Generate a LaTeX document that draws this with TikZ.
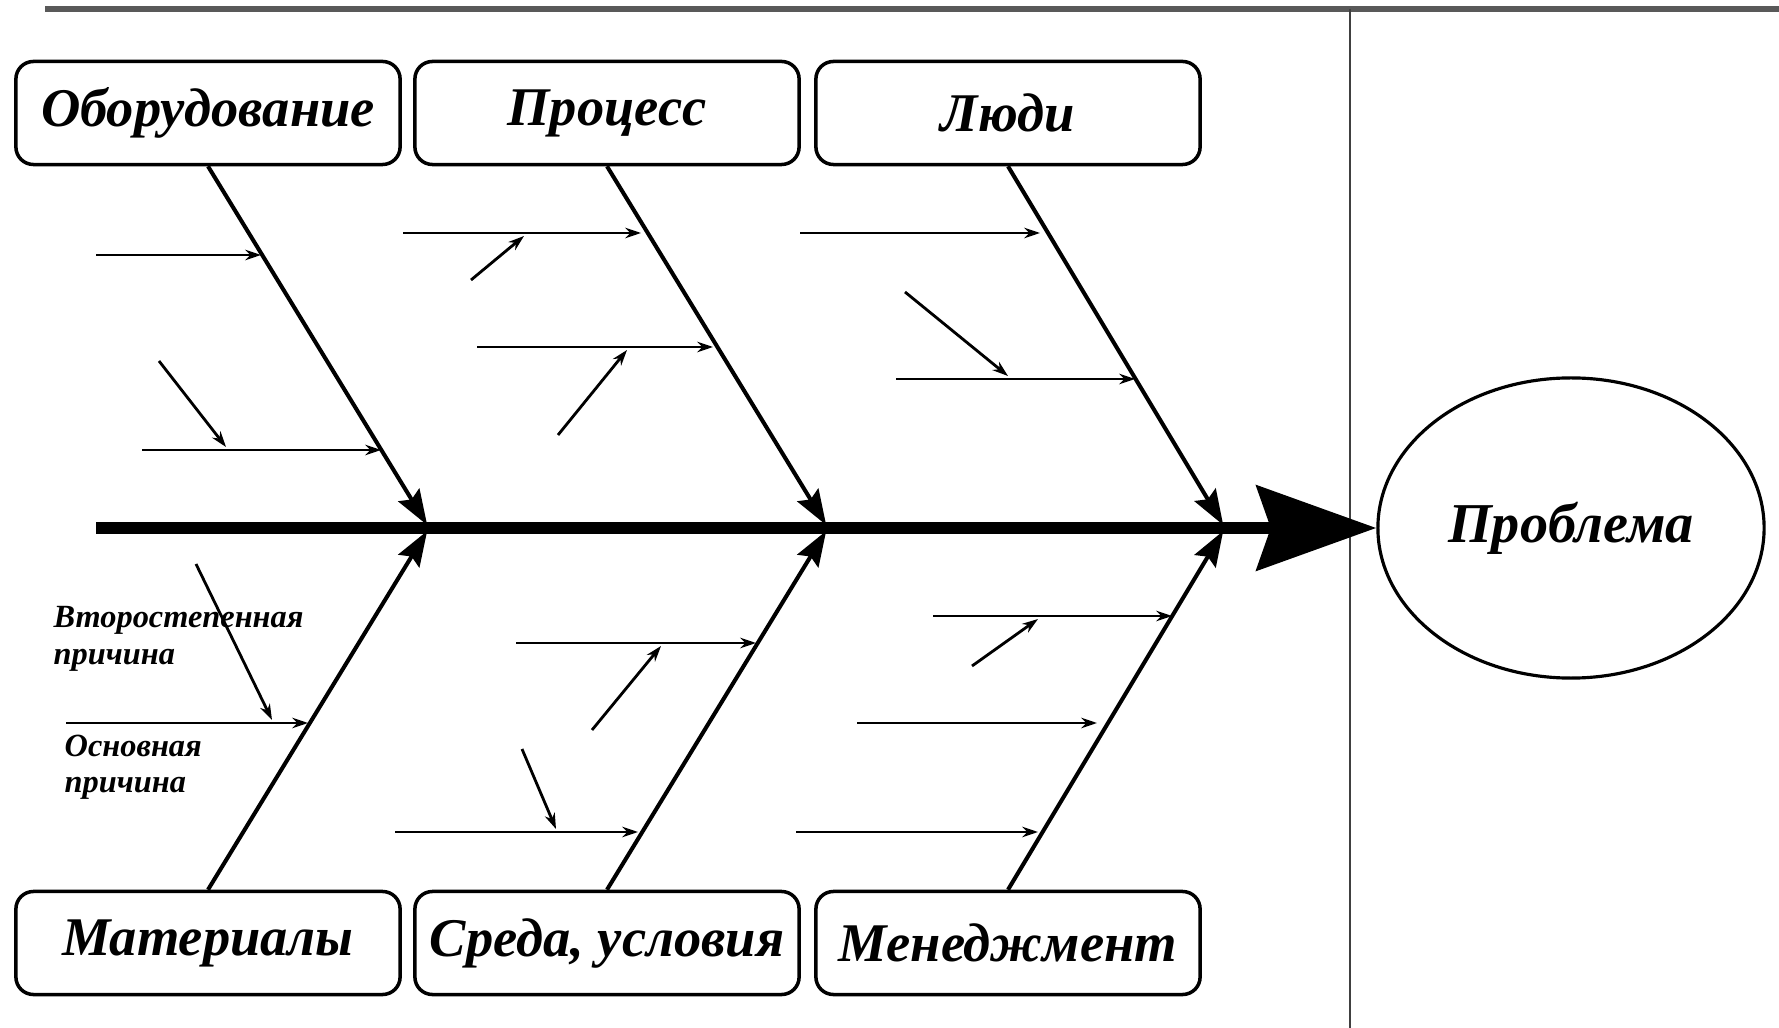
\documentclass[tikz,border=0pt]{standalone}
\usepackage{fontspec}
\setmainfont{Liberation Serif}
\usetikzlibrary{shapes.geometric, arrows.meta, positioning}

\begin{document}
\begin{tikzpicture}[x=0.01cm, y=-0.01cm,
    box/.style={draw, rectangle, rounded corners=5pt, line width=1pt, minimum width=3.84cm, minimum height=1.03cm, inner sep=1pt, font=\fontsize{15.5}{18}\selectfont\bfseries\itshape},
    bone/.style={line width=1.15pt, shorten >=1pt, -{Stealth[length=10pt, width=7pt, inset=1.5pt]}},
    cause/.style={line width=0.8pt, -{Stealth[length=4.5pt, width=3pt]}},
    spine/.style={line width=3.5pt, -{Stealth[length=34pt, width=24pt, inset=4pt]}},
    note/.style={anchor=north west, align=left, inner sep=0pt, font=\fontsize{9.2}{10.3}\selectfont\bfseries\itshape}]
    \fill[white] (0,0) rectangle (1779,1028);
    \useasboundingbox (0,0) rectangle (1779,1028);

    % frame
    \draw[line width=1.8pt, black!65] (45,9) -- (1779,9);
    \draw[line width=0.7pt, black!75] (1350,9) -- (1350,1028);

    % categories
    \node[box] (equip) at (208,113) {Оборудование};
    \node[box] (process) at (607,113) {Процесс};
    \node[box] (people) at (1008,113) {Люди};
    \node[box] (materials) at (208,943) {Материалы};
    \node[box] (environ) at (607,943) {Среда, условия};
    \node[box] (manage) at (1008,943) {Менеджмент};

    \node[draw, ellipse, line width=0.9pt, inner sep=0pt, minimum width=3.86cm, minimum height=3cm, font=\fontsize{16}{19}\selectfont\bfseries\itshape] (problem) at (1571,528) {Проблема};

    % spine and bones
    \coordinate (tail) at (96,528);
    \coordinate (j1) at (429,528);
    \coordinate (j2) at (828,528);
    \coordinate (j3) at (1225,528);
    \draw[spine] (tail) -- (problem.west);
    \draw[bone] (equip.south) -- (j1);
    \draw[bone] (process.south) -- (j2);
    \draw[bone] (people.south) -- (j3);
    \draw[bone] (materials.north) -- (j1);
    \draw[bone] (environ.north) -- (j2);
    \draw[bone] (manage.north) -- (j3);

    % causes: equipment
    \coordinate (e1a) at (96,255);   \coordinate (e1b) at (261,255);
    \coordinate (e2a) at (142,450);  \coordinate (e2b) at (381,450);
    \coordinate (e3a) at (159,361);  \coordinate (e3b) at (226,447);
    \draw[cause] (e1a) -- (e1b);
    \draw[cause] (e2a) -- (e2b);
    \draw[cause] (e3a) -- (e3b);

    % causes: process
    \coordinate (p1a) at (403,233);  \coordinate (p1b) at (641,233);
    \coordinate (p2a) at (477,347);  \coordinate (p2b) at (713,347);
    \coordinate (p3a) at (471,280);  \coordinate (p3b) at (524,236);
    \coordinate (p4a) at (558,435);  \coordinate (p4b) at (627,350);
    \draw[cause] (p1a) -- (p1b);
    \draw[cause] (p2a) -- (p2b);
    \draw[cause] (p3a) -- (p3b);
    \draw[cause] (p4a) -- (p4b);

    % causes: people
    \coordinate (h1a) at (800,233);  \coordinate (h1b) at (1040,233);
    \coordinate (h2a) at (896,379);  \coordinate (h2b) at (1135,379);
    \coordinate (h3a) at (905,292);  \coordinate (h3b) at (1008,376);
    \draw[cause] (h1a) -- (h1b);
    \draw[cause] (h2a) -- (h2b);
    \draw[cause] (h3a) -- (h3b);

    % causes: materials
    \coordinate (m1a) at (66,723);   \coordinate (m1b) at (308,723);
    \coordinate (m2a) at (196,564);  \coordinate (m2b) at (272,720);
    \draw[cause] (m1a) -- (m1b);
    \draw[cause] (m2a) -- (m2b);
    \node[note] (secnote) at (53,606) {Второстепенная\\причина};
    \node[note] (mainnote) at (64,734) {Основная\\причина};

    % causes: environment
    \coordinate (v1a) at (516,643);  \coordinate (v1b) at (756,643);
    \coordinate (v2a) at (395,832);  \coordinate (v2b) at (638,832);
    \coordinate (v3a) at (592,730);  \coordinate (v3b) at (661,646);
    \coordinate (v4a) at (522,749);  \coordinate (v4b) at (556,829);
    \draw[cause] (v1a) -- (v1b);
    \draw[cause] (v2a) -- (v2b);
    \draw[cause] (v3a) -- (v3b);
    \draw[cause] (v4a) -- (v4b);

    % causes: management
    \coordinate (k1a) at (933,616);  \coordinate (k1b) at (1172,616);
    \coordinate (k2a) at (857,723);  \coordinate (k2b) at (1097,723);
    \coordinate (k3a) at (796,832);  \coordinate (k3b) at (1038,832);
    \coordinate (k4a) at (972,666);  \coordinate (k4b) at (1038,619);
    \draw[cause] (k1a) -- (k1b);
    \draw[cause] (k2a) -- (k2b);
    \draw[cause] (k3a) -- (k3b);
    \draw[cause] (k4a) -- (k4b);
\end{tikzpicture}
\end{document}
